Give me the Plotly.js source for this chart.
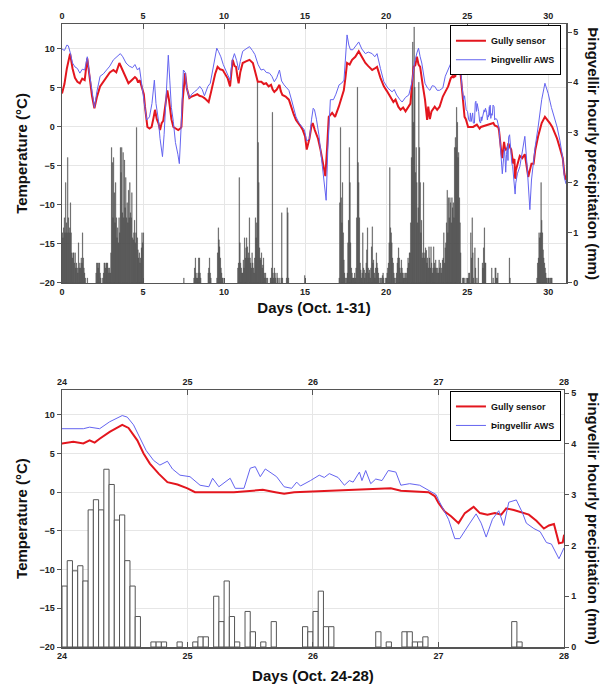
<!DOCTYPE html>
<html><head><meta charset="utf-8">
<script src="https://cdn.plot.ly/plotly-3.0.1.min.js"></script>
<style>html,body{margin:0;padding:0;background:#fff}#chart{width:604px;height:688px}</style>
</head><body><div id="chart"></div>
<script>
// ---- Gully sensor temperature (°C), day of October (0 = Oct 1 00:00)
const gullyDay = [0.0,0.15,0.3,0.5,0.65,0.8,0.95,1.1,1.25,1.4,1.56,1.65,1.73,1.85,2.0,2.15,2.35,2.55,2.76,2.95,3.17,3.35,3.54,3.7,3.9,4.1,4.3,4.5,4.6,4.7,4.8,4.92,5.05,5.12,5.27,5.4,5.53,5.65,5.74,5.85,5.95,6.05,6.15,6.25,6.35,6.5,6.6,6.67,6.75,6.87,7.0,7.17,7.3,7.37,7.45,7.55,7.6,7.7,7.8,7.86,8.0,8.17,8.35,8.48,8.65,8.79,8.95,9.05,9.2,9.3,9.45,9.6,9.75,9.92,10.05,10.23,10.37,10.45,10.53,10.65,10.74,10.82,10.9,11.0,11.15,11.35,11.57,11.78,11.9,12.08,12.3,12.45,12.6,12.75,12.9,13.0,13.1,13.25,13.42,13.5,13.6,13.8,14.0,14.15,14.3,14.44,14.6,14.75,14.86,15.0,15.1,15.27,15.4,15.47,15.6,15.8,15.95,16.15,16.25,16.35,16.46,16.67,16.85,17.08,17.25,17.39,17.5,17.59,17.75,17.9,18.1,18.31,18.5,18.72,18.9,19.14,19.3,19.44,19.65,19.86,20.05,20.27,20.45,20.58,20.75,20.89,21.05,21.2,21.35,21.5,21.6,21.7,21.8,21.9,22.0,22.1,22.25,22.4,22.53,22.6,22.7,22.8,23.0,23.15,23.3,23.5,23.65,23.83,23.95,
24.0,24.09,24.17,24.22,24.26,24.3,24.38,24.48,24.53,24.6,24.65,24.7,24.77,24.84,24.92,25.0,25.06,25.37,25.6,25.7,25.77,25.85,26.2,26.4,26.62,26.7,26.92,26.97,27.0,27.05,27.1,27.16,27.21,27.28,27.33,27.39,27.45,27.5,27.54,27.6,27.67,27.72,27.78,27.84,27.88,27.92,27.96,27.99,28.0,
28.25,28.4,28.56,28.77,28.97,29.1,29.2,29.38,29.6,29.8,30.0,30.1,30.25,30.41,30.55,30.72,30.9,31.0,31.1];
const gullyTemp = [4.3,5.5,7.5,9.4,7.5,6.3,5.8,5.6,6.2,6.0,8.8,7.2,6.0,4.0,2.4,3.8,5.2,5.8,6.3,7.0,7.3,7.0,8.2,7.5,6.7,5.6,6.0,6.4,6.2,5.7,6.0,5.0,4.2,2.6,0.0,-0.2,0.0,1.2,2.2,1.0,0.5,-0.4,0.5,0.8,2.5,4.7,3.5,2.5,1.0,0.0,-0.2,-0.4,-0.2,0.0,3.5,6.5,6.9,5.0,3.9,3.7,3.9,4.0,4.2,4.0,3.9,3.7,3.4,3.2,4.5,5.6,6.8,7.7,7.4,7.3,6.8,6.2,5.2,7.0,8.6,7.8,7.7,6.5,5.6,7.0,8.2,8.4,8.6,8.2,7.3,5.8,5.8,5.5,5.6,5.2,5.4,4.8,4.5,4.8,5.4,4.6,4.1,3.9,3.5,2.5,1.6,0.9,0.5,0.0,-0.4,-1.2,-2.9,-1.5,0.2,0.5,-0.4,-1.5,-2.9,-5.5,-6.3,-3.0,1.3,1.8,1.3,2.6,3.8,4.7,6.5,8.2,8.0,8.6,9.0,9.7,9.0,8.2,7.8,7.3,7.5,7.7,6.3,5.2,4.6,3.9,3.2,3.5,2.6,2.2,2.5,2.0,2.5,3.0,5.5,7.7,7.9,9.0,8.0,7.7,5.5,3.5,0.9,2.6,1.0,2.0,2.6,2.2,2.6,3.9,4.5,5.2,6.0,
6.3,6.5,6.3,6.7,6.4,6.9,7.8,8.7,8.3,6.7,5.0,3.7,2.4,1.3,1.0,0.5,0.0,0.0,0.3,0.0,-0.2,0.0,0.2,0.3,0.5,0.2,0.0,-0.5,-1.4,-2.5,-3.1,-4.0,-2.7,-1.9,-2.7,-2.9,-2.7,-2.9,-2.1,-2.3,-2.7,-2.9,-3.7,-4.7,-4.3,-4.1,-6.6,-6.5,-5.6,
-3.7,-4.0,-3.5,-6.4,-4.7,-4.7,-3.0,-1.2,0.5,1.3,0.8,0.5,0.0,-0.7,-1.5,-2.7,-4.0,-6.0,-6.8];

// ---- Þingvellir AWS temperature (°C)
const awsDay = [0.0,0.15,0.3,0.39,0.5,0.65,0.8,0.95,1.1,1.25,1.4,1.56,1.65,1.75,1.85,2.0,2.15,2.35,2.55,2.76,2.95,3.17,3.4,3.6,3.75,3.95,4.15,4.35,4.5,4.66,4.78,4.9,5.05,5.23,5.4,5.55,5.7,5.8,5.95,6.05,6.2,6.3,6.45,6.56,6.65,6.75,6.87,7.0,7.15,7.24,7.35,7.49,7.6,7.7,7.86,8.0,8.17,8.35,8.5,8.65,8.79,8.9,9.0,9.15,9.3,9.45,9.55,9.65,9.8,9.95,10.1,10.25,10.37,10.5,10.64,10.78,10.9,11.0,11.15,11.35,11.57,11.75,11.9,12.1,12.28,12.45,12.6,12.8,12.95,13.1,13.25,13.42,13.55,13.7,14.0,14.2,14.44,14.6,14.8,14.96,15.1,15.27,15.4,15.5,15.58,15.7,15.85,16.05,16.2,16.3,16.4,16.56,16.75,16.9,17.1,17.25,17.4,17.5,17.59,17.7,17.8,17.95,18.1,18.31,18.5,18.72,18.9,19.14,19.3,19.44,19.65,19.86,20.1,20.37,20.5,20.65,20.85,20.99,21.2,21.4,21.6,21.75,21.9,22.0,22.1,22.2,22.4,22.55,22.7,22.85,23.0,23.15,23.3,23.5,23.65,23.83,23.95,
24.0,24.17,24.22,24.3,24.38,24.48,24.52,24.57,24.62,24.67,24.73,24.78,24.84,24.88,24.94,25.02,25.1,25.17,25.2,25.25,25.34,25.38,25.45,25.5,25.54,25.58,25.62,25.71,25.77,25.83,25.87,25.9,25.98,26.05,26.09,26.13,26.2,26.25,26.29,26.32,26.37,26.39,26.42,26.46,26.5,26.55,26.6,26.66,26.7,26.77,26.85,26.92,26.98,27.0,27.08,27.13,27.17,27.25,27.3,27.34,27.38,27.43,27.48,27.52,27.56,27.62,27.67,27.7,27.76,27.81,27.86,27.9,27.96,28.0,
28.1,28.25,28.4,28.56,28.7,28.87,28.97,29.1,29.2,29.38,29.6,29.8,29.9,30.0,30.2,30.41,30.55,30.72,30.9,31.0,31.1];
const awsTemp = [10.0,9.8,10.5,10.4,9.6,8.2,7.7,7.5,6.9,7.4,7.3,9.0,7.5,6.0,4.2,2.5,4.5,6.5,6.8,7.3,7.8,8.6,9.0,9.4,9.0,8.2,7.8,7.6,8.0,7.3,7.6,5.4,3.5,0.9,1.3,3.0,6.0,3.0,0.9,-1.5,-3.8,-1.0,5.0,9.2,6.0,2.5,0.7,-2.0,-3.5,-4.7,0.0,7.3,7.0,5.0,3.7,4.2,4.5,4.8,5.2,4.8,4.0,4.6,5.2,5.6,7.3,9.0,10.1,9.7,9.0,8.0,7.3,6.5,6.0,8.5,9.4,8.5,7.3,8.4,9.7,10.0,10.3,9.8,9.3,8.0,7.3,7.4,7.0,6.9,6.5,5.8,6.3,7.3,5.9,5.4,4.7,3.2,1.3,0.6,0.0,-0.4,-1.8,-1.5,1.0,2.4,2.2,1.0,-1.0,-4.7,-7.5,-9.4,-3.0,3.5,3.5,4.2,5.4,5.6,6.0,8.5,11.8,10.5,9.9,9.9,10.3,10.9,10.0,9.4,9.6,9.4,9.0,9.4,7.5,5.8,5.0,4.5,4.8,4.1,3.5,3.2,3.8,4.1,5.8,8.2,9.5,10.1,9.0,8.2,5.6,5.0,4.7,5.3,5.2,4.7,4.7,5.0,6.5,7.3,8.0,
8.2,8.2,8.4,8.2,9.1,9.9,9.7,8.7,7.1,5.4,4.1,3.5,4.0,3.0,2.2,2.0,0.9,0.7,1.8,0.7,1.8,0.5,0.5,3.1,3.3,2.0,3.0,2.0,0.7,0.5,1.3,0.8,1.5,2.2,1.9,2.4,1.9,0.9,1.5,1.3,2.6,1.5,2.8,1.1,1.7,1.5,2.8,2.6,0.9,1.1,0.9,0.3,-0.3,-1.0,-3.5,-6.0,-6.0,-4.0,-2.8,-4.0,-5.8,-3.5,-2.4,-4.3,-1.3,-1.0,-2.7,-4.0,-4.7,-5.1,-6.5,-6.7,-8.6,-7.2,
-6.0,-5.1,-3.0,-1.2,-5.0,-10.6,-6.8,-4.0,-2.5,0.0,3.5,5.6,5.0,4.3,2.5,0.9,0.0,-1.7,-4.0,-6.5,-7.3];

// ---- Þingvellir hourly precipitation (mm); each array starts at the given hour of October
const rainH0   = [1.0,0.9,1.1,1.3,1.0,2.0,1.2,1.0,2.5,1.3,1.0,1.1,1.6,1.0,0.6,0.5,0.6,0.6,0.4,0.6,0.3,0.4,0.3,0.2,0.8,0.3,0.4,0.3,0.5,0.4,1.0,0.5,0.3,0.2,0.1,0,0,0.1];
const rainH50  = [0.2,0.4,0.4,0.3,0.4,0.4,0.2,0.1,0,0,0.1,0.2,0.4,0.4,0.3,0.4,0.4,0.4,0.3,0.2,0.3,0.2];
const rainH72  = [0.6,2.7,2.4,1.3,2.5,1.8,1.2,2.0,1.3,0.9,1.1,0.8,1.3,1.0,2.7,2.2,2.7,1.4,2.6,1.3,2.45,1.5,2.1,1.3,1.6,1.2,1.85,1.3,2.0,1.4,1.3,1.8,0.9,0.86,1.0,1.25,0.8,1.0,3.1,0.9,0.66,0.5,0.6,0.4,0.5,0.7,1.0,0.8,1.0];
const rainH180 = [0.1];
const rainH195 = [0.1,0.3,0.5,0.2,0.1,0.1,0.2,0.5,0.5,0.2,0.1];
const rainH216 = [0.2,0.3,0.5,0.2,0.1];
const rainH229 = [0.1,0.6,1.1,0.86,0.72,0.5,0.3,0.2,0.1,0.1];
const rainH260 = [0.3,0.4,2.1,0.8,0.4,0.3,0.2,0.2,0.46,0.3,0.9,0.5,0.7,0.9,0.72,0.5,0.6,1.3,0.5,0.4,0.3,0.6,0.4,0.3,0.2,0.5,1.3,0.9,1.2,4.0,2.8,2.0,0.7,0.5,0.46,0.6,0.3,0.36,0.5,0.2,0.1,0.2,0.1,0,0.1,0,0,0,0.1,0.1,0.3,3.4,0.2,0.1,0.3,0.2,0.1,0,0.2,0.1,0,0.1,0,0,0.1,1.4,0.1,0,0,0,0,0,0.1,1.5,1.4,0.1];
const rainH359 = [0.15];
const rainH410 = [0.1,1.6,3.1,1.7,1.2,2.0,1.0,0.46,0.2,0.1,0,0.1,0.2,0.8,1.25,2.7,2.0,0.8,0.3,0.2,0.1,0.1,0.1,0.2,0.1,0.3,1.3,3.9,2.4,2.0,1.3,0.4,0.26,0.1,0.2,1.0,0.3,0.26,0.1,0.2,0.4,0.66,1.1,0.3,0.2,0.26,0.1,0.3,0.72,1.12,0.4,0.46,0.2,0.1,0.3,0.6,0.4,0.3,0.2,0.1,0,0.1,0,0.1,0.15,0.2,0.1,0,0,0.1,0.1,0.2,0.3,0.4,0.8,2.3,1.1,1.0,0.8,0.5,0.4,0.2,0.1,0,0.1,0.2,0.4,0.5,0.7,0.5,0.3,0.2,0.46,0.3,0.2,0.1,0.2,0.1,0.2,0.1,0.2,0.3,0.5,0.4,0.6,0.6,1.2,2.5,3.9,4.8,3.2,5.1,3.9,2.2,2.7,2.0,1.2,1.5,4.0,2.7,2.0,1.0,1.25,0.5,0.6,2.0,0.5,0.6,0.7,0.65,0.4,0.5,0.3,0.72,0.5,0.3,0.72,0.4,0.2,0.3,0.72,0.4,0.3,0.46,0.3,0.2,0.3,0.2,0.46,0.3,0.4,0.2,0.3,0.46,0.5,1.0,0.4,0.7,0.8,1.2,1.85,1.0,1.7,1.3,1.7,1.6];
const rainOct25 = [1.2,1.7,1.5,1.6,1.3,2.7,2.9,2.7,3.5,3.2,2.5,2.6,1.7,1.2,0.6,0,0,0.1,0.1,0.1,0,0,0.1,0];
const rainOct26 = [0,0.1,0.2,0.2,0,1.0,0.5,1.3,0.6,0.1,0,0.7,0.3,0,0.1,0,0.5,0,0,0,0,0,0.4,0.3];
const rainOct27 = [0.7,1.1,0.4,0.4,0,0,0,0,0,0,0,0,0.3,0,0.1,0,0,0.3,0.3,0.1,0.1,0.2,0,0];
const rainOct28 = [0,0,0,0,0,0,0,0,0,0,0,0,0,0,0.5,0.1,0,0,0,0,0,0,0,0];
const rainH703 = [0.1,0.4,0.5,1.0,0.9,1.0,2.0,1.25,1.0,0.66,0.5,0.4,0.3,0.2,0.1,0.1,0,0.1,0.1,0,0.1,0.1,0.1];

const rainDetail = [].concat(rainOct25, rainOct26, rainOct27, rainOct28); // hours 576-671
const rainBlocks = [[0,rainH0],[50,rainH50],[72,rainH72],[180,rainH180],[195,rainH195],[216,rainH216],
  [229,rainH229],[260,rainH260],[359,rainH359],[410,rainH410],[576,rainDetail],[703,rainH703]];

function toBars(blocks) {
  const x = [], y = [];
  blocks.forEach(([start, vals]) => vals.forEach((v, k) => {
    if (v > 0) { x.push((start + k + 0.5) / 24); y.push(v); }
  }));
  return {x, y};
}
const monthBars = toBars(rainBlocks);
const detailBars = toBars([[576, rainDetail]]);

const FONT = 'Liberation Sans, Arial, sans-serif';
const tickF = {family: FONT, size: 9, color: '#222', weight: 'bold'};
const titleF = {family: FONT, size: 15, color: '#111', weight: 'bold'};
const AX = '#555';

const traces = [
  {type:'bar', x: monthBars.x, y: monthBars.y, width: 1/24, xaxis:'x', yaxis:'y',
   marker:{color:'#4a4a4a', line:{color:'#4a4a4a', width:0.25}}, showlegend:false, hoverinfo:'skip'},
  {type:'scatter', mode:'lines', x: gullyDay, y: gullyTemp, xaxis:'x3', yaxis:'y2', name:'Gully sensor',
   line:{color:'#e3161e', width:2}, legend:'legend'},
  {type:'scatter', mode:'lines', x: awsDay, y: awsTemp, xaxis:'x3', yaxis:'y2', name:'Þingvellir AWS',
   line:{color:'#6464f0', width:1}, legend:'legend'},
  {type:'bar', x: detailBars.x, y: detailBars.y, width: 1/24, xaxis:'x2', yaxis:'y3',
   marker:{color:'#ffffff', line:{color:'#555', width:1}}, showlegend:false, hoverinfo:'skip'},
  {type:'scatter', mode:'lines', x: gullyDay, y: gullyTemp, xaxis:'x4', yaxis:'y4', name:'Gully sensor',
   line:{color:'#e3161e', width:2}, legend:'legend2'},
  {type:'scatter', mode:'lines', x: awsDay, y: awsTemp, xaxis:'x4', yaxis:'y4', name:'Þingvellir AWS',
   line:{color:'#6464f0', width:1}, legend:'legend2'}
];

const xBase = {showgrid:true, gridcolor:'#e6e6e6', zeroline:false, showline:true, linecolor:AX, linewidth:1.5,
  ticks:'inside', ticklen:5, tickcolor:AX, tickfont:tickF};
const yTemp = {range:[-20,13.2], dtick:5, tick0:0, showgrid:true, gridcolor:'#e6e6e6', zeroline:false,
  showline:true, linecolor:AX, linewidth:1.5, ticks:'outside', ticklen:4, tickcolor:AX, tickfont:tickF, side:'left'};
const yRain = {dtick:1, tick0:0, showgrid:false, zeroline:false, showline:true, linecolor:AX, linewidth:1.5,
  ticks:'outside', ticklen:4, tickcolor:AX, tickfont:tickF, side:'right'};

const legendBox = {xanchor:'right', yanchor:'top', bgcolor:'#fff', bordercolor:'#000', borderwidth:1,
  font:{family: FONT, size: 9, color:'#111', weight:'bold'}, itemwidth:30, tracegroupgap:0};

const layout = {
  width:604, height:688, margin:{l:62, r:38, t:24, b:41},
  paper_bgcolor:'#fff', plot_bgcolor:'#fff', showlegend:true, bargap:0,
  xaxis: Object.assign({}, xBase, {domain:[0,1], anchor:'y', range:[0,31.1], dtick:5, tick0:0,
    title:{text:'Days (Oct. 1-31)', font:titleF, standoff:6}}),
  xaxis3: Object.assign({}, xBase, {overlaying:'x', anchor:'y2', side:'top', range:[0,31.1], dtick:5, tick0:0, showgrid:false}),
  yaxis: Object.assign({}, yRain, {domain:[0.5843,1], anchor:'x', range:[0,5.16]}),
  yaxis2: Object.assign({}, yTemp, {overlaying:'y', anchor:'x3',
    title:{text:'Temperature (°C)', font:titleF, standoff:8}}),
  xaxis2: Object.assign({}, xBase, {domain:[0,0.996], anchor:'y3', range:[24,28], dtick:1, tick0:24,
    title:{text:'Days (Oct. 24-28)', font:titleF, standoff:10}}),
  xaxis4: Object.assign({}, xBase, {overlaying:'x2', anchor:'y4', side:'top', range:[24,28], dtick:1, tick0:24, showgrid:false}),
  yaxis3: Object.assign({}, yRain, {domain:[0,0.4125], anchor:'x2', range:[0,5.06]}),
  yaxis4: Object.assign({}, yTemp, {overlaying:'y3', anchor:'x4',
    title:{text:'Temperature (°C)', font:titleF, standoff:8}}),
  legend: Object.assign({}, legendBox, {x:0.99, y:0.998}),
  legend2: Object.assign({}, legendBox, {x:0.99, y:0.411}),
  annotations: [
    {text:'Þingvellir hourly precipitation (mm)', xref:'paper', yref:'paper', x:1.054, y:0.792,
     textangle:90, showarrow:false, xanchor:'center', yanchor:'middle', font:titleF},
    {text:'Þingvellir hourly precipitation (mm)', xref:'paper', yref:'paper', x:1.054, y:0.2063,
     textangle:90, showarrow:false, xanchor:'center', yanchor:'middle', font:titleF}
  ]
};

Plotly.newPlot('chart', traces, layout, {displayModeBar:false, staticPlot:true});
</script></body></html>
